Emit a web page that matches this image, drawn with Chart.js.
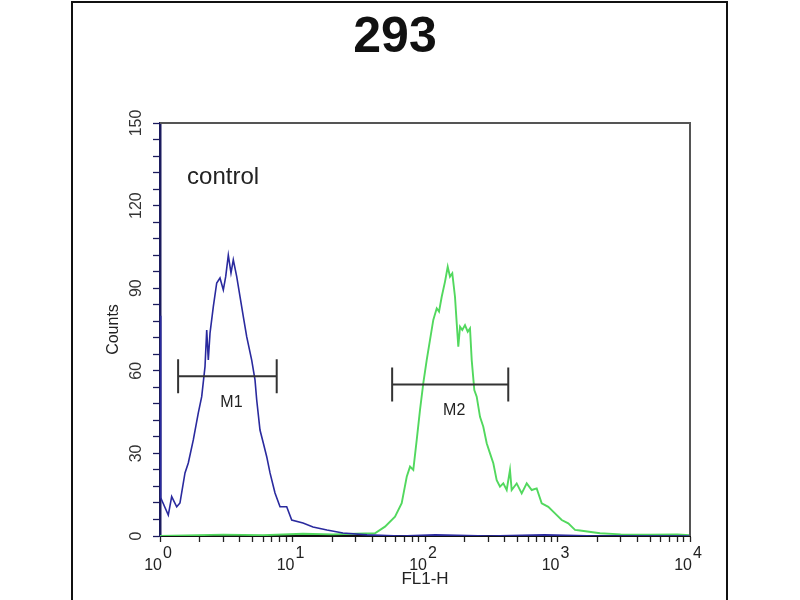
<!DOCTYPE html>
<html>
<head>
<meta charset="utf-8">
<script src="https://cdn.jsdelivr.net/npm/chart.js"></script>
<style>
  html, body { margin: 0; padding: 0; background: #fff; }
  #frame { position: absolute; left: 71px; top: 1px; width: 653px; height: 640px; border: 2px solid #111; border-bottom: none; }
  #wrap { position: absolute; left: 0; top: 0; width: 800px; height: 600px; }
</style>
</head>
<body>
<div id="frame"></div>
<div id="wrap"><canvas id="hist"></canvas></div>

<script>
// FL1-H channel values and counts
const blueFL = [1.0, 1.012, 1.03, 1.155, 1.225, 1.337, 1.415, 1.544, 1.635, 1.784, 1.946, 2.064,
  2.186, 2.252, 2.315, 2.385, 2.526, 2.679, 2.837, 3.005, 3.132, 3.278, 3.434, 3.574, 3.793,
  4.017, 4.254, 4.511, 4.921, 5.212, 5.369, 5.684, 6.020, 6.389, 6.766, 7.378, 8.050, 9.042,
  9.862, 12.0, 14.28, 18.2, 24.0, 36.5, 65, 120, 300, 800, 2000, 10000];
const blueCounts = [80, 14, 13.1, 7.6, 14.3, 10.6, 12, 22.9, 26.5, 34.9, 44.7, 50.6,
  61.5, 74.8, 63.9, 73.7, 83.3, 91.9, 93.7, 89.4, 94.2, 102, 95.5, 100.3, 94.2,
  86.9, 79.7, 72.4, 63.9, 56.7, 49.4, 38.5, 33.8, 28.8, 22.9, 15.6, 10.6, 10.6,
  5.8, 4.7, 3.3, 2.2, 1.1, 0.4, 0, 0.4, 0, 0.4, 0, 0];

const greenFL = [1, 3, 6, 12, 20, 30, 41.9, 49.9, 59.4, 66.7, 72.8, 77.1, 81.6, 86.6, 91.7,
  97.1, 103.0, 109.1, 115.5, 122.6, 127.6, 133.7, 141.6, 148.4, 154.4, 160.7, 168.4, 173.5,
  178.4, 183.8, 191.2, 200.4, 210.1, 218.6, 225.2, 235.6, 245.6, 260.1, 275.4, 292.2, 309.5,
  327.8, 347.6, 368.1, 389.8, 413.6, 437.9, 451.0, 492.1, 536.9, 585.7, 638.9, 696.6, 760.0,
  852.2, 957.5, 1076, 1206, 1356, 1479, 2094, 3000, 5000, 8000, 10000];
const greenCounts = [0, 0.5, 0.3, 0.8, 0.6, 0.8, 1.0, 3.4, 7, 11.9, 21.5, 25.2, 24, 34.9, 45.8,
  55.5, 63.9, 71.2, 78.5, 82.7, 81.5, 86.9, 92.4, 97.8, 94.2, 95.4, 86.9, 77.3,
  68.8, 76, 74.8, 76.6, 74.2, 75.4, 63.9, 53, 50.6, 43.3, 39.7, 33.7, 30,
  26.4, 20.3, 17.9, 19.1, 16.7, 24, 16.7, 19.1, 15.5, 19.1, 16.7, 17.3, 11.9,
  10.6, 8.2, 5.8, 4.6, 2.2, 2, 1, 0.6, 0.5, 0.6, 0.3];

// gate markers
const markerNames = ['M1', 'M2'];
const markerFrom = [1.37, 56.5];
const markerTo = [7.6, 425];
const markerLevel = [58, 55];

const yTickLabels = [0, 30, 60, 90, 120, 150];
const xTickExps = [0, 1, 2, 3, 4];
const xTickValues = [];
for (let d = 0; d < 4; d++) {
  for (let m = 1; m < 10; m++) xTickValues.push(m * Math.pow(10, d));
}
xTickValues.push(10000);

const FONT = "'Liberation Sans', Arial, sans-serif";
Chart.defaults.font.family = FONT;

function zip(xs, ys) {
  return xs.map((x, i) => ({x: x, y: ys[i]}));
}

const overlay = {
  id: 'overlay',
  afterDatasetsDraw(chart) {
    const ctx = chart.ctx;
    const a = chart.chartArea;
    const xs = chart.scales.x, ys = chart.scales.y;
    ctx.save();

    // top and right frame of the plot
    ctx.strokeStyle = '#555';
    ctx.lineWidth = 2;
    ctx.beginPath();
    ctx.moveTo(a.left, a.top);
    ctx.lineTo(a.right, a.top);
    ctx.lineTo(a.right, a.bottom);
    ctx.stroke();

    // gate markers
    ctx.strokeStyle = '#333';
    ctx.fillStyle = '#222';
    ctx.font = '16px ' + FONT;
    ctx.textAlign = 'center';
    ctx.textBaseline = 'middle';
    markerNames.forEach((name, i) => {
      const x1 = xs.getPixelForValue(markerFrom[i]);
      const x2 = xs.getPixelForValue(markerTo[i]);
      const py = ys.getPixelForValue(markerLevel[i]);
      ctx.beginPath();
      ctx.moveTo(x1, py); ctx.lineTo(x2, py);
      ctx.moveTo(x1, py - 17); ctx.lineTo(x1, py + 17);
      ctx.moveTo(x2, py - 17); ctx.lineTo(x2, py + 17);
      ctx.stroke();
      ctx.fillText(name, (x1 + x2) / 2 + 4, py + 26);
    });

    // sample label
    ctx.font = '24px ' + FONT;
    ctx.textAlign = 'left';
    ctx.textBaseline = 'alphabetic';
    ctx.fillStyle = '#222';
    ctx.fillText('control', xs.getPixelForValue(1.6), ys.getPixelForValue(128));

    // y tick labels, rotated
    ctx.font = '16px ' + FONT;
    ctx.fillStyle = '#333';
    ctx.textAlign = 'center';
    ctx.textBaseline = 'middle';
    yTickLabels.forEach(v => {
      ctx.save();
      ctx.translate(a.left - 23, ys.getPixelForValue(v));
      ctx.rotate(-Math.PI / 2);
      ctx.fillText(String(v), 0, 0);
      ctx.restore();
    });

    // x tick labels 10^n
    ctx.font = '16px ' + FONT;
    ctx.fillStyle = '#222';
    ctx.textBaseline = 'alphabetic';
    xTickExps.forEach(e => {
      const px = xs.getPixelForValue(Math.pow(10, e));
      ctx.textAlign = 'right';
      ctx.fillText('10', px + 2, a.bottom + 34);
      ctx.textAlign = 'left';
      ctx.fillText(String(e), px + 3, a.bottom + 22);
    });

    ctx.restore();
  }
};

new Chart(document.getElementById('hist'), {
  type: 'line',
  data: {
    datasets: [
      {
        label: 'control',
        data: zip(blueFL, blueCounts),
        borderColor: '#2a2a9e',
        borderWidth: 1.6,
        pointRadius: 0,
        tension: 0
      },
      {
        label: 'sample',
        data: zip(greenFL, greenCounts),
        borderColor: '#52d85e',
        borderWidth: 1.9,
        pointRadius: 0,
        tension: 0
      }
    ]
  },
  options: {
    responsive: true,
    maintainAspectRatio: false,
    animation: false,
    layout: { padding: { left: 100, right: 110, top: 0, bottom: 0 } },
    plugins: {
      legend: { display: false },
      tooltip: { enabled: false },
      title: {
        display: true,
        text: '293',
        color: '#111',
        font: { size: 50, weight: 'bold', family: FONT },
        padding: { top: 8, bottom: 55 }
      }
    },
    scales: {
      x: {
        type: 'logarithmic',
        min: 1,
        max: 10000,
        z: 1,
        afterBuildTicks(s) { s.ticks = xTickValues.map(v => ({ value: v })); },
        afterFit(s) { s.height = 64; },
        ticks: { display: false },
        grid: { drawOnChartArea: false, drawTicks: true, tickLength: 6, tickColor: '#222', tickWidth: 1.3 },
        border: { color: '#111', width: 2 },
        title: { display: true, text: 'FL1-H', color: '#222', font: { size: 17 }, padding: { top: 0, bottom: 10 } }
      },
      y: {
        min: 0,
        max: 150,
        afterFit(s) { s.width = 60; },
        ticks: { display: false, stepSize: 6 },
        grid: { drawOnChartArea: false, drawTicks: true, tickLength: 7, tickColor: '#1b1b5e', tickWidth: 1.3 },
        border: { color: '#1b1b5e', width: 2.5 },
        title: { display: true, text: 'Counts', color: '#222', font: { size: 16 }, padding: { top: 4, bottom: 0 } }
      }
    }
  },
  plugins: [overlay]
});
</script>
</body>
</html>
